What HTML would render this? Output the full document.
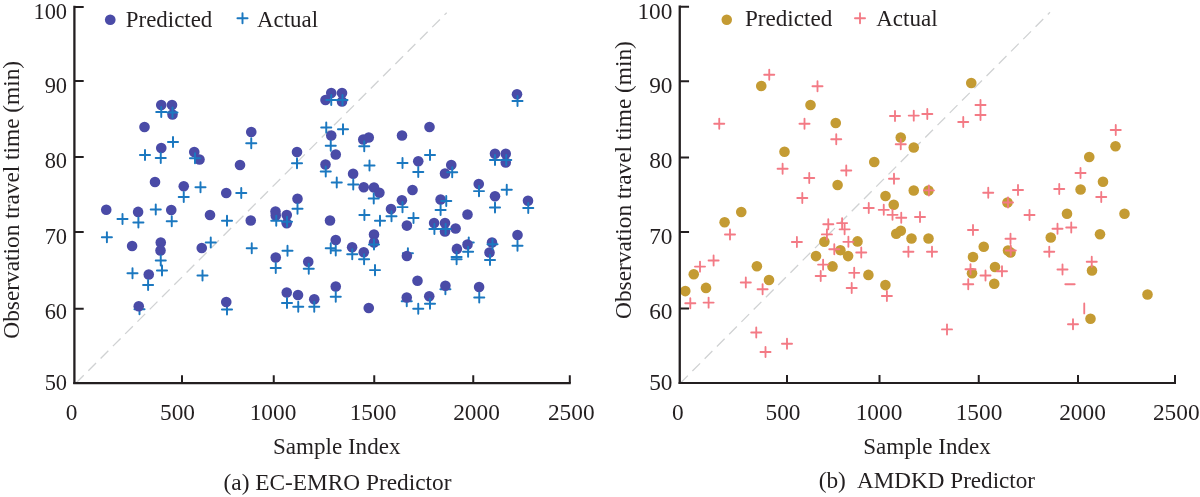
<!DOCTYPE html>
<html lang="en"><head><meta charset="utf-8"><title>Predicted vs Actual travel time</title>
<style>html,body{margin:0;padding:0;background:#fff}svg{display:block}text{font-family:"Liberation Serif","Times New Roman",serif;font-size:22.7px;fill:#231f20}</style></head><body>
<svg width="1200" height="497" viewBox="0 0 1200 497">
<rect width="1200" height="497" fill="#fff"/>
<line x1="446.7" y1="12.7" x2="76" y2="383" stroke="#d0d2d3" stroke-width="1.3" stroke-dasharray="10.9 6.46" stroke-dashoffset="7.8"/>
<path d="M134.45 309.25H144.55M139.50 304.20V314.30M402.85 253.25H412.95M407.90 248.20V258.30M463.70 242.40H473.80M468.75 237.35V247.45M440.35 289.25H450.45M445.40 284.20V294.30M401.70 301.25H411.80M406.75 296.20V306.30M221.95 309.50H232.05M227.00 304.45V314.55" stroke="#1b78c0" stroke-width="1.95" stroke-linecap="round" fill="none"/>
<g fill="#4a4ba7"><circle cx="161.25" cy="105" r="5.3"/><circle cx="172" cy="105" r="5.3"/><circle cx="172.5" cy="114.5" r="5.3"/><circle cx="144.5" cy="127" r="5.3"/><circle cx="161.25" cy="148" r="5.3"/><circle cx="194.25" cy="152" r="5.3"/><circle cx="199.5" cy="159.5" r="5.3"/><circle cx="155" cy="182" r="5.3"/><circle cx="183.75" cy="186.25" r="5.3"/><circle cx="251.25" cy="132" r="5.3"/><circle cx="240" cy="165" r="5.3"/><circle cx="226.25" cy="193" r="5.3"/><circle cx="297" cy="152" r="5.3"/><circle cx="331.25" cy="93" r="5.3"/><circle cx="342" cy="93" r="5.3"/><circle cx="325.5" cy="100" r="5.3"/><circle cx="342" cy="101.5" r="5.3"/><circle cx="331.25" cy="135.5" r="5.3"/><circle cx="335.75" cy="154.5" r="5.3"/><circle cx="325.5" cy="164.5" r="5.3"/><circle cx="353.1" cy="173.75" r="5.3"/><circle cx="106.25" cy="209.75" r="5.3"/><circle cx="138.1" cy="211.9" r="5.3"/><circle cx="171.25" cy="210" r="5.3"/><circle cx="210" cy="215" r="5.3"/><circle cx="250.75" cy="220.5" r="5.3"/><circle cx="132.1" cy="246" r="5.3"/><circle cx="160.75" cy="242.5" r="5.3"/><circle cx="160.5" cy="250.5" r="5.3"/><circle cx="148.75" cy="274.5" r="5.3"/><circle cx="201.75" cy="248" r="5.3"/><circle cx="275.5" cy="211.5" r="5.3"/><circle cx="275.75" cy="215.5" r="5.3"/><circle cx="286.75" cy="215" r="5.3"/><circle cx="286.75" cy="223.25" r="5.3"/><circle cx="297.5" cy="198.75" r="5.3"/><circle cx="275.75" cy="257.5" r="5.3"/><circle cx="308.25" cy="261.75" r="5.3"/><circle cx="330" cy="220.5" r="5.3"/><circle cx="335.75" cy="240" r="5.3"/><circle cx="352.1" cy="247.25" r="5.3"/><circle cx="335.75" cy="286.5" r="5.3"/><circle cx="286.75" cy="292.5" r="5.3"/><circle cx="298" cy="295" r="5.3"/><circle cx="138.75" cy="306.25" r="5.3"/><circle cx="226.25" cy="302" r="5.3"/><circle cx="314.25" cy="299.25" r="5.3"/><circle cx="517" cy="94.25" r="5.3"/><circle cx="363.25" cy="139.5" r="5.3"/><circle cx="368.75" cy="137.5" r="5.3"/><circle cx="402" cy="135.5" r="5.3"/><circle cx="429.5" cy="127" r="5.3"/><circle cx="418.25" cy="161.25" r="5.3"/><circle cx="451.25" cy="165" r="5.3"/><circle cx="445" cy="173.5" r="5.3"/><circle cx="363.75" cy="187.25" r="5.3"/><circle cx="374" cy="187.5" r="5.3"/><circle cx="379.4" cy="192.75" r="5.3"/><circle cx="412.5" cy="190" r="5.3"/><circle cx="495" cy="153.75" r="5.3"/><circle cx="505.75" cy="153.75" r="5.3"/><circle cx="505.75" cy="162.5" r="5.3"/><circle cx="478.75" cy="184.1" r="5.3"/><circle cx="391" cy="209.1" r="5.3"/><circle cx="401.9" cy="200.25" r="5.3"/><circle cx="406.9" cy="225.6" r="5.3"/><circle cx="440.6" cy="199.6" r="5.3"/><circle cx="434.1" cy="223.1" r="5.3"/><circle cx="445" cy="223.1" r="5.3"/><circle cx="445" cy="231.5" r="5.3"/><circle cx="455.6" cy="228.5" r="5.3"/><circle cx="467.5" cy="214.5" r="5.3"/><circle cx="495" cy="196.25" r="5.3"/><circle cx="528" cy="200.75" r="5.3"/><circle cx="374" cy="234.5" r="5.3"/><circle cx="374" cy="242.6" r="5.3"/><circle cx="363.75" cy="252.25" r="5.3"/><circle cx="406.9" cy="256" r="5.3"/><circle cx="456.9" cy="248.9" r="5.3"/><circle cx="467.5" cy="244.5" r="5.3"/><circle cx="492" cy="242.5" r="5.3"/><circle cx="489.5" cy="252.5" r="5.3"/><circle cx="517.5" cy="235" r="5.3"/><circle cx="417.5" cy="280.75" r="5.3"/><circle cx="445.4" cy="285.75" r="5.3"/><circle cx="479.1" cy="287" r="5.3"/><circle cx="368.75" cy="308" r="5.3"/><circle cx="406.75" cy="297.5" r="5.3"/><circle cx="429.25" cy="296.25" r="5.3"/></g>
<path d="M156.20 112.00H166.30M161.25 106.95V117.05M167.45 112.50H177.55M172.50 107.45V117.55M139.95 155.00H150.05M145.00 149.95V160.05M155.70 158.00H165.80M160.75 152.95V163.05M167.95 142.00H178.05M173.00 136.95V147.05M189.95 158.25H200.05M195.00 153.20V163.30M195.45 187.25H205.55M200.50 182.20V192.30M178.70 197.00H188.80M183.75 191.95V202.05M246.20 143.25H256.30M251.25 138.20V148.30M236.20 193.00H246.30M241.25 187.95V198.05M291.95 163.25H302.05M297.00 158.20V168.30M326.20 100.00H336.30M331.25 94.95V105.05M337.45 100.00H347.55M342.50 94.95V105.05M321.20 127.50H331.30M326.25 122.45V132.55M337.95 129.25H348.05M343.00 124.20V134.30M325.70 145.75H335.80M330.75 140.70V150.80M320.70 171.50H330.80M325.75 166.45V176.55M331.70 182.50H341.80M336.75 177.45V187.55M348.20 184.50H358.30M353.25 179.45V189.55M117.45 219.00H127.55M122.50 213.95V224.05M133.35 222.50H143.45M138.40 217.45V227.55M150.70 209.50H160.80M155.75 204.45V214.55M166.70 221.25H176.80M171.75 216.20V226.30M221.95 220.75H232.05M227.00 215.70V225.80M101.85 237.25H111.95M106.90 232.20V242.30M155.70 260.50H165.80M160.75 255.45V265.55M156.95 270.50H167.05M162.00 265.45V275.55M127.45 273.25H137.55M132.50 268.20V278.30M143.05 285.00H153.15M148.10 279.95V290.05M205.70 242.50H215.80M210.75 237.45V247.55M197.45 275.50H207.55M202.50 270.45V280.55M246.70 248.25H256.80M251.75 243.20V253.30M271.20 220.75H281.30M276.25 215.70V225.80M281.95 221.75H292.05M287.00 216.70V226.80M292.45 208.75H302.55M297.50 203.70V213.80M270.70 268.00H280.80M275.75 262.95V273.05M282.45 250.75H292.55M287.50 245.70V255.80M303.70 268.75H313.80M308.75 263.70V273.80M325.70 248.25H335.80M330.75 243.20V253.30M330.70 250.50H340.80M335.75 245.45V255.55M347.20 254.25H357.30M352.25 249.20V259.30M281.95 303.00H292.05M287.00 297.95V308.05M293.20 306.75H303.30M298.25 301.70V311.80M309.20 306.75H319.30M314.25 301.70V311.80M330.70 296.75H340.80M335.75 291.70V301.80M512.45 101.00H522.55M517.50 95.95V106.05M359.20 146.25H369.30M364.25 141.20V151.30M364.45 165.50H374.55M369.50 160.45V170.55M397.45 163.00H407.55M402.50 157.95V168.05M424.95 155.00H435.05M430.00 149.95V160.05M413.20 171.90H423.30M418.25 166.85V176.95M447.15 172.30H457.25M452.20 167.25V177.35M473.95 191.10H484.05M479.00 186.05V196.15M501.70 189.75H511.80M506.75 184.70V194.80M489.95 160.00H500.05M495.00 154.95V165.05M501.20 160.00H511.30M506.25 154.95V165.05M368.70 198.50H378.80M373.75 193.45V203.55M359.35 215.00H369.45M364.40 209.95V220.05M374.95 220.75H385.05M380.00 215.70V225.80M386.45 216.25H396.55M391.50 211.20V221.30M397.45 207.10H407.55M402.50 202.05V212.15M408.45 218.00H418.55M413.50 212.95V223.05M441.20 201.00H451.30M446.25 195.95V206.05M435.55 210.00H445.65M440.60 204.95V215.05M429.35 229.00H439.45M434.40 223.95V234.05M440.55 229.00H450.65M445.60 223.95V234.05M489.95 207.50H500.05M495.00 202.45V212.55M523.20 208.00H533.30M528.25 202.95V213.05M368.95 244.50H379.05M374.00 239.45V249.55M359.05 259.25H369.15M364.10 254.20V264.30M369.95 270.10H380.05M375.00 265.05V275.15M451.55 257.00H461.65M456.60 251.95V262.05M451.55 259.25H461.65M456.60 254.20V264.30M463.05 251.75H473.15M468.10 246.70V256.80M487.45 244.25H497.55M492.50 239.20V249.30M484.95 260.00H495.05M490.00 254.95V265.05M512.45 245.75H522.55M517.50 240.70V250.80M474.20 297.50H484.30M479.25 292.45V302.55M413.20 308.75H423.30M418.25 303.70V313.80M424.95 303.75H435.05M430.00 298.70V308.80" stroke="#1b78c0" stroke-width="1.95" stroke-linecap="round" fill="none"/>
<g stroke="#231f20" fill="none">
<path d="M74.4 5.800000000000001V384.1" stroke-width="2.3"/>
<path d="M73.25 383.1H570.8" stroke-width="2.1"/>
<path d="M182 383.1v-7.9M273.75 383.1v-7.9M374.25 383.1v-7.9M473.25 383.1v-7.9M569.8 383.1v-7.9" stroke-width="2"/>
<path d="M74.4 6.9h9.3M74.4 81h9.3M74.4 157h9.3M74.4 232h9.3M74.4 308.75h9.3" stroke-width="2"/>
</g>
<line x1="1050" y1="12.3" x2="681" y2="382.5" stroke="#d0d2d3" stroke-width="1.3" stroke-dasharray="10.9 6.46" stroke-dashoffset="7.8"/>
<g fill="#c49b33"><circle cx="761.25" cy="86" r="5.3"/><circle cx="810.5" cy="105" r="5.3"/><circle cx="835.75" cy="123" r="5.3"/><circle cx="784.5" cy="151.75" r="5.3"/><circle cx="837.6" cy="185" r="5.3"/><circle cx="874.25" cy="162" r="5.3"/><circle cx="900.75" cy="137.5" r="5.3"/><circle cx="913.75" cy="147.5" r="5.3"/><circle cx="913.75" cy="190.5" r="5.3"/><circle cx="928.5" cy="190.5" r="5.3"/><circle cx="741.25" cy="212" r="5.3"/><circle cx="724.6" cy="222.3" r="5.3"/><circle cx="885.5" cy="196" r="5.3"/><circle cx="893.75" cy="204.8" r="5.3"/><circle cx="900.8" cy="230.7" r="5.3"/><circle cx="896.25" cy="233.7" r="5.3"/><circle cx="911.5" cy="238.5" r="5.3"/><circle cx="928.5" cy="238.5" r="5.3"/><circle cx="693.75" cy="274.2" r="5.3"/><circle cx="685.3" cy="291.1" r="5.3"/><circle cx="706" cy="287.9" r="5.3"/><circle cx="756.9" cy="266.2" r="5.3"/><circle cx="769" cy="280" r="5.3"/><circle cx="824.4" cy="241.75" r="5.3"/><circle cx="857.5" cy="241.4" r="5.3"/><circle cx="840.4" cy="250.2" r="5.3"/><circle cx="848.1" cy="256.1" r="5.3"/><circle cx="816" cy="256.1" r="5.3"/><circle cx="832.5" cy="266.4" r="5.3"/><circle cx="868.4" cy="274.9" r="5.3"/><circle cx="885.4" cy="285.1" r="5.3"/><circle cx="971.25" cy="83" r="5.3"/><circle cx="1115.5" cy="146.25" r="5.3"/><circle cx="1089.25" cy="157" r="5.3"/><circle cx="1103" cy="181.75" r="5.3"/><circle cx="1080.6" cy="189.5" r="5.3"/><circle cx="1007.5" cy="202.5" r="5.3"/><circle cx="983.75" cy="246.75" r="5.3"/><circle cx="973" cy="257" r="5.3"/><circle cx="1008" cy="250.5" r="5.3"/><circle cx="1010.5" cy="252.5" r="5.3"/><circle cx="995" cy="267" r="5.3"/><circle cx="972" cy="273.25" r="5.3"/><circle cx="994.25" cy="283.75" r="5.3"/><circle cx="1067" cy="213.75" r="5.3"/><circle cx="1124.5" cy="213.75" r="5.3"/><circle cx="1050.75" cy="237.5" r="5.3"/><circle cx="1100" cy="234.25" r="5.3"/><circle cx="1092" cy="270.5" r="5.3"/><circle cx="1090.5" cy="318.75" r="5.3"/><circle cx="1147.5" cy="294.5" r="5.3"/></g>
<path d="M764.20 74.75H774.30M769.25 69.70V79.80M812.45 86.25H822.55M817.50 81.20V91.30M714.20 123.75H724.30M719.25 118.70V128.80M799.45 123.75H809.55M804.50 118.70V128.80M831.20 139.25H841.30M836.25 134.20V144.30M777.55 168.75H787.65M782.60 163.70V173.80M804.20 178.00H814.30M809.25 172.95V183.05M841.20 170.50H851.30M846.25 165.45V175.55M889.95 116.00H900.05M895.00 110.95V121.05M908.70 115.60H918.80M913.75 110.55V120.65M922.25 114.00H932.35M927.30 108.95V119.05M895.70 144.25H905.80M900.75 139.20V149.30M888.95 178.75H899.05M894.00 173.70V183.80M923.85 190.40H933.95M928.90 185.35V195.45M797.25 198.00H807.35M802.30 192.95V203.05M863.70 208.00H873.80M868.75 202.95V213.05M878.70 209.80H888.80M883.75 204.75V214.85M887.45 214.80H897.55M892.50 209.75V219.85M896.20 217.70H906.30M901.25 212.65V222.75M914.95 217.00H925.05M920.00 211.95V222.05M823.25 224.20H833.35M828.30 219.15V229.25M837.05 223.10H847.15M842.10 218.05V228.15M839.55 229.30H849.65M844.60 224.25V234.35M724.95 234.50H735.05M730.00 229.45V239.55M791.85 242.00H801.95M796.90 236.95V247.05M708.55 260.50H718.65M713.60 255.45V265.55M694.95 266.60H705.05M700.00 261.55V271.65M740.75 282.50H750.85M745.80 277.45V287.55M757.55 289.25H767.65M762.60 284.20V294.30M821.85 234.40H831.95M826.90 229.35V239.45M843.35 241.80H853.45M848.40 236.75V246.85M829.25 249.20H839.35M834.30 244.15V254.25M856.20 252.50H866.30M861.25 247.45V257.55M818.05 264.60H828.15M823.10 259.55V269.65M815.65 276.00H825.75M820.70 270.95V281.05M849.15 272.80H859.25M854.20 267.75V277.85M846.65 288.00H856.75M851.70 282.95V293.05M881.85 296.00H891.95M886.90 290.95V301.05M903.35 251.70H913.45M908.40 246.65V256.75M926.95 251.70H937.05M932.00 246.65V256.75M685.25 303.20H695.35M690.30 298.15V308.25M703.55 302.60H713.65M708.60 297.55V307.65M751.20 332.50H761.30M756.25 327.45V337.55M760.45 352.00H770.55M765.50 346.95V357.05M781.95 343.75H792.05M787.00 338.70V348.80M941.95 329.40H952.05M947.00 324.35V334.45M975.45 105.00H985.55M980.50 99.95V110.05M975.45 115.00H985.55M980.50 109.95V120.05M958.20 122.00H968.30M963.25 116.95V127.05M1110.70 130.00H1120.80M1115.75 124.95V135.05M1075.45 173.00H1085.55M1080.50 167.95V178.05M1054.20 189.00H1064.30M1059.25 183.95V194.05M1012.95 190.00H1023.05M1018.00 184.95V195.05M983.20 192.75H993.30M988.25 187.70V197.80M1096.20 197.00H1106.30M1101.25 191.95V202.05M1002.95 202.50H1013.05M1008.00 197.45V207.55M1024.45 215.00H1034.55M1029.50 209.95V220.05M967.95 230.00H978.05M973.00 224.95V235.05M1005.45 238.75H1015.55M1010.50 233.70V243.80M1005.70 250.50H1015.80M1010.75 245.45V255.55M996.95 271.25H1007.05M1002.00 266.20V276.30M965.45 269.25H975.55M970.50 264.20V274.30M980.45 275.50H990.55M985.50 270.45V280.55M963.20 284.25H973.30M968.25 279.20V289.30M1052.45 228.75H1062.55M1057.50 223.70V233.80M1066.20 227.50H1076.30M1071.25 222.45V232.55M1044.20 251.75H1054.30M1049.25 246.70V256.80M1086.70 261.75H1096.80M1091.75 256.70V266.80M1057.45 269.50H1067.55M1062.50 264.45V274.55M1067.95 324.25H1078.05M1073.00 319.20V329.30M1065.3 284.25H1074.7M1084.25 303.4V313.4" stroke="#f37a85" stroke-width="1.85" stroke-linecap="round" fill="none"/>
<g stroke="#231f20" fill="none">
<path d="M679.75 5.6V384.0" stroke-width="2.3"/>
<path d="M678.6 383.0H1176.0" stroke-width="2.1"/>
<path d="M787 383.0v-7.9M879.5 383.0v-7.9M978.75 383.0v-7.9M1078 383.0v-7.9M1175 383.0v-7.9" stroke-width="2"/>
<path d="M679.75 6.7h9.3M679.75 81.25h9.3M679.75 157.5h9.3M679.75 232h9.3M679.75 308.5h9.3" stroke-width="2"/>
</g>
<circle cx="110.25" cy="19.75" r="5.35" fill="#4a4ba7"/>
<path d="M237.45 18.25H247.55M242.50 13.20V23.30" stroke="#1b78c0" stroke-width="1.95" stroke-linecap="round" fill="none"/>
<text transform="translate(125.8 26.9) scale(1.01 1)">Predicted</text>
<text transform="translate(257.0 26.9) scale(1.01 1)">Actual</text>
<circle cx="726.75" cy="19.75" r="5.25" fill="#c49b33"/>
<path d="M854.95 18.25H865.05M860.00 13.20V23.30" stroke="#f37a85" stroke-width="1.85" stroke-linecap="round" fill="none"/>
<text transform="translate(744.9 26.4) scale(1.02 1)">Predicted</text>
<text transform="translate(876.2 26.4) scale(1.015 1)">Actual</text>
<text transform="translate(67.1 19.4) scale(0.99 1.04)" text-anchor="end">100</text>
<text transform="translate(672.5 19.4) scale(1.03 1.04)" text-anchor="end">100</text>
<text transform="translate(67.1 93.1) scale(0.99 1.04)" text-anchor="end">90</text>
<text transform="translate(672.5 93.1) scale(1.03 1.04)" text-anchor="end">90</text>
<text transform="translate(67.1 168.3) scale(0.99 1.04)" text-anchor="end">80</text>
<text transform="translate(672.5 168.3) scale(1.03 1.04)" text-anchor="end">80</text>
<text transform="translate(67.1 243.75) scale(0.99 1.04)" text-anchor="end">70</text>
<text transform="translate(672.5 243.75) scale(1.03 1.04)" text-anchor="end">70</text>
<text transform="translate(67.1 319.4) scale(0.99 1.04)" text-anchor="end">60</text>
<text transform="translate(672.5 319.4) scale(1.03 1.04)" text-anchor="end">60</text>
<text transform="translate(67.1 390.4) scale(0.99 1.04)" text-anchor="end">50</text>
<text transform="translate(672.5 390.4) scale(1.03 1.04)" text-anchor="end">50</text>
<text transform="translate(71.6 420.1) scale(1.028 1.04)" text-anchor="middle">0</text>
<text transform="translate(177.5 420.1) scale(1.028 1.04)" text-anchor="middle">500</text>
<text transform="translate(273 420.1) scale(1.028 1.04)" text-anchor="middle">1000</text>
<text transform="translate(373 420.1) scale(1.028 1.04)" text-anchor="middle">1500</text>
<text transform="translate(476.5 420.1) scale(1.028 1.04)" text-anchor="middle">2000</text>
<text transform="translate(571.25 420.1) scale(1.028 1.04)" text-anchor="middle">2500</text>
<text transform="translate(677.75 420.1) scale(1.028 1.04)" text-anchor="middle">0</text>
<text transform="translate(783 420.1) scale(1.028 1.04)" text-anchor="middle">500</text>
<text transform="translate(879 420.1) scale(1.028 1.04)" text-anchor="middle">1000</text>
<text transform="translate(979 420.1) scale(1.028 1.04)" text-anchor="middle">1500</text>
<text transform="translate(1082.5 420.1) scale(1.028 1.04)" text-anchor="middle">2000</text>
<text transform="translate(1176.25 420.1) scale(1.028 1.04)" text-anchor="middle">2500</text>
<text transform="translate(336.7 454.25) scale(1.018 1)" text-anchor="middle">Sample Index</text>
<text transform="translate(927.0 454.25) scale(1.018 1)" text-anchor="middle">Sample Index</text>
<text transform="translate(337.5 490) scale(1.028 1)" text-anchor="middle">(a) EC-EMRO Predictor</text>
<text transform="translate(818.7 487.7) scale(1.028 1)">(b)</text>
<text transform="translate(857.1 487.7) scale(1.02 1)">AMDKD Predictor</text>
<text transform="translate(19.0 199.75) rotate(-90) scale(1.028 1)" text-anchor="middle">Observation travel time (min)</text>
<text transform="translate(630.7 180) rotate(-90) scale(1.028 1)" text-anchor="middle">Observation travel time (min)</text>
</svg></body></html>
